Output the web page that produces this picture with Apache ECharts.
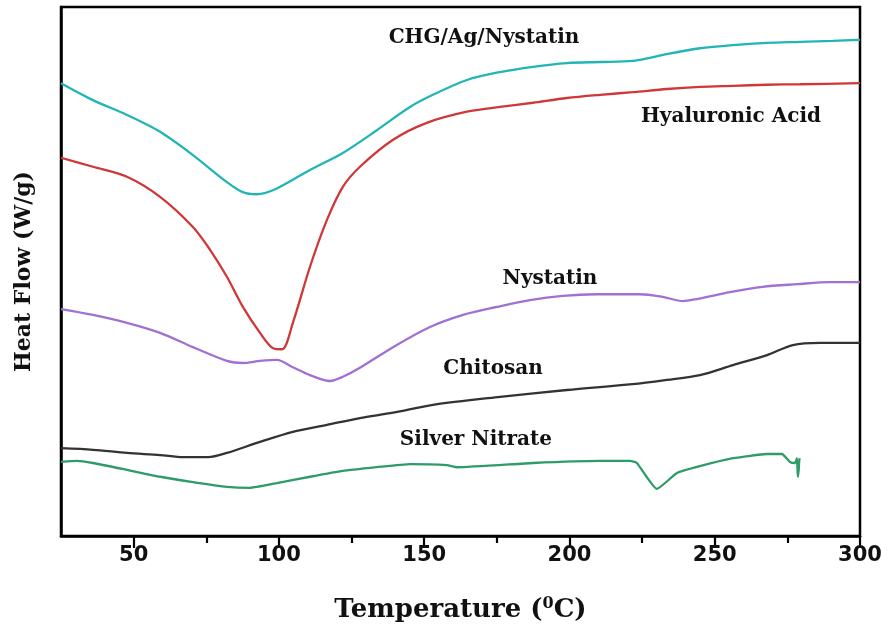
<!DOCTYPE html>
<html><head><meta charset="utf-8">
<script src="https://cdn.jsdelivr.net/npm/echarts@6/dist/echarts.min.js"></script>
<style>html,body{margin:0;padding:0;background:#fff}#c{width:891px;height:632px}</style>
</head><body><div id="c"></div>
<script>
// Temperature (°C) and heat flow (arbitrary units)
const chgT = [25,36.0,47.7,59.1,70.4,82.1,87.6,92.4,99.3,110.7,122.0,133.7,145.1,153.0,164.7,176.1,187.4,199.1,210.5,221.8,227.7,233.5,244.9,256.3,267.9,279.3,290.7,300];
const chgV = [85.6,82.4,79.6,76.4,72.0,66.9,65.0,64.6,65.7,69.2,72.4,76.7,81.1,83.4,86.2,87.7,88.7,89.4,89.6,89.8,90.4,91.1,92.2,92.8,93.2,93.4,93.6,93.8];

const haT = [25,36.0,47.7,59.1,70.4,76.3,82.1,87.6,93.5,98.0,101.1,104.8,110.7,116.5,122.0,127.9,139.3,150.9,164.7,176.1,187.4,199.1,210.5,221.8,233.5,244.9,256.3,267.9,279.3,300];
const haV = [71.5,69.8,67.9,64.1,58.4,54.1,49.0,43.3,38.4,35.5,35.3,40.3,50.9,59.7,66.0,69.8,74.9,78.1,80.2,81.1,81.9,82.8,83.4,83.9,84.5,84.9,85.1,85.3,85.4,85.6];

const nyT = [25,36.0,47.7,59.1,70.4,82.1,87.6,93.5,99.3,104.8,110.7,117.6,122.0,127.9,139.3,152.0,163.4,175.0,186.4,197.7,209.4,224.2,232.1,239.0,243.8,255.2,266.5,278.3,289.6,300];
const nyV = [42.9,41.8,40.3,38.4,35.7,33.1,32.7,33.1,33.3,31.9,30.4,29.3,30.1,31.8,35.7,39.5,41.8,43.3,44.6,45.4,45.7,45.7,45.2,44.4,44.8,46.1,47.1,47.6,48.0,48.0];

const chT = [25,36.0,47.7,59.1,67.0,75.6,82.1,93.5,104.8,116.5,127.9,139.3,153.0,176.1,199.1,221.8,233.5,244.9,256.3,268.0,276.9,286.2,300];
const chV = [16.6,16.3,15.7,15.3,14.9,14.9,15.7,17.8,19.7,21.0,22.3,23.3,24.8,26.3,27.6,28.7,29.5,30.4,32.3,34.2,36.1,36.5,36.5];

const snT = [25,30.5,36.0,47.7,59.1,70.4,82.1,90.0,99.3,110.7,122.0,133.7,145.1,157.8,161.3,187.4,210.5,220.8,223.2,230.1,237.0,244.9,256.3,268.0,273.1,275.9,277.6,278.3,278.6,278.9,279.1,279.3];
const snV = [14.0,14.2,13.8,12.5,11.2,10.2,9.3,9.1,10.0,11.2,12.3,13.0,13.6,13.4,13.0,13.8,14.2,14.2,13.8,8.9,11.9,13.2,14.7,15.5,15.5,14.0,13.8,14.7,11.2,12.5,14.4,14.7];

const xTicks = [50,100,150,200,250,300];
const xMinorTicks = [75,125,175,225,275];
const names = ['CHG/Ag/Nystatin','Hyaluronic Acid','Nystatin','Chitosan','Silver Nitrate'];
const labelPos = [[170.6,94.1],[255.6,79.2],[193.3,48.6],[173.7,31.6],[167.8,18.1]];
const colors = ['#22b5b5','#cf3838','#a070d2','#333333','#2e9c68'];
const sets = [[chgT,chgV],[haT,haV],[nyT,nyV],[chT,chV],[snT,snV]];

const zip = (a,b)=>a.map((t,i)=>[t,b[i]]);
const series = sets.map((s,i)=>({
  type:'line', name:names[i], data:zip(s[0],s[1]), showSymbol:false, smooth:0.3,
  xAxisIndex:0, yAxisIndex:0,
  lineStyle:{color:colors[i], width:2.3}, itemStyle:{color:colors[i]}, z:3,
  markPoint:{symbol:'circle', symbolSize:0, silent:true,
    data:[{coord:labelPos[i], value:names[i]}],
    label:{show:true, position:'inside', formatter:names[i], color:'#111',
      fontFamily:'DejaVu Serif', fontWeight:'bold', fontSize:20}}
}));
series[4].smooth = 0.15;

const chart = echarts.init(document.getElementById('c'));
chart.setOption({
  animation:false,
  backgroundColor:'#fff',
  grid:{left:61, right:31, top:7, bottom:96, show:true, borderColor:'#000', borderWidth:2.5},
  xAxis:[{type:'value', min:25, max:300,
    axisLine:{show:true, lineStyle:{color:'#000', width:2.5}},
    axisTick:{show:true, length:12, customValues:xTicks, lineStyle:{color:'#000', width:2.2}},
    splitLine:{show:false},
    axisLabel:{color:'#111', fontFamily:'DejaVu Sans', fontWeight:'bold', fontSize:21, margin:9,
      customValues:xTicks},
    name:'{a|Temperature (}{s|0}{a|C)}', nameLocation:'middle', nameGap:60,
    nameTextStyle:{rich:{
      a:{fontFamily:'DejaVu Serif', fontWeight:'bold', fontSize:26, color:'#111'},
      s:{fontFamily:'DejaVu Serif', fontWeight:'bold', fontSize:16, color:'#111', verticalAlign:'top', padding:[0,0,12,0]}}}
  },{type:'value', min:25, max:300, position:'bottom',
    axisLine:{show:false}, axisLabel:{show:false}, splitLine:{show:false},
    axisTick:{show:true, length:7, customValues:xMinorTicks, lineStyle:{color:'#000', width:2.2}}
  }],
  yAxis:{type:'value', min:0, max:100,
    axisLine:{show:true, lineStyle:{color:'#000', width:2.5}},
    axisTick:{show:false}, axisLabel:{show:false}, splitLine:{show:false},
    name:'Heat Flow (W/g)', nameLocation:'middle', nameGap:26,
    nameTextStyle:{fontFamily:'DejaVu Serif', fontWeight:'bold', fontSize:22, color:'#111'}
  },
  series:series
});
</script></body></html>
